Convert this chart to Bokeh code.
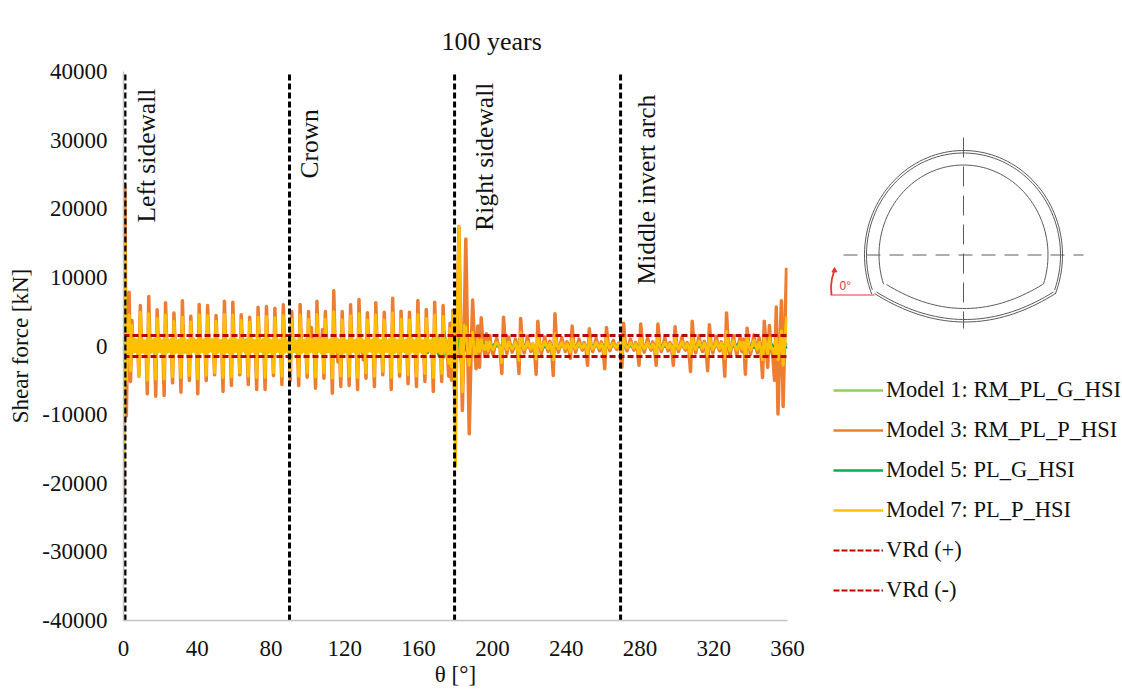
import numpy as np
from bokeh.plotting import figure
from bokeh.layouts import row
from bokeh.models import Range1d, FixedTicker, Legend, LegendItem, NumeralTickFormatter
from bokeh.core.properties import value
from bokeh.embed import file_html
from bokeh.resources import INLINE

SERIF = "Liberation Serif"

# Model 3, 0-180 deg
model3_a = [
 -22000,23400,-10200,1800,7850,-5170,
 3700,-700,800,-600,700,-4400,
 5900,-700,700,-700,600,-6970,
 7200,-800,700,-600,800,-7310,
 5300,-700,800,-700,600,-7210,
 6300,-700,700,-600,800,-5370,
 4800,-800,600,-700,700,-6730,
 6600,-700,700,-800,700,-5030,
 4350,-600,900,-700,700,-6970,
 6050,-700,700,-700,800,-5030,
 5900,-700,800,-600,700,-4200,
 4450,-800,700,-700,600,-6630,
 6530,-700,700,-700,700,-5760,
 6390,-700,800,-700,700,-4200,
 4540,-600,700,-800,700,-5610,
 4200,-700,700,-700,600,-6340,
 5660,-700,600,-600,800,-6340,
 5760,-800,700,-700,700,-4300,
 5510,-700,700,-700,700,-5610,
 6000,-700,800,-600,700,-5030,
 5030,-700,700,-700,600,-5760,
 6050,-800,700,-700,700,-4540,
 5030,-700,2700,-700,700,-6140,
 6530,-600,700,-800,2400,-4690,
 5030,-700,700,-700,800,-6870,
 8040,-700,900,-2300,700,-5900,
 5030,-800,700,-700,600,-5760,
 6000,-700,700,-700,700,-6340,
 6780,-700,800,-2000,700,-4690,
 4830,-600,700,-700,700,-5900,
 6290,-700,700,-800,700,-4200,
 4930,-700,600,-700,800,-6340,
 6970,-800,700,-600,700,-4400,
 5080,-700,700,-700,700,-5510,
 4930,-700,800,-700,600,-5900,
 6630,-700,700,-800,700,-5170,
 5320,-600,700,-700,700,-6630,
 6390,-700,800,-700,700,-5170,
 5900,-700,700,-700,-4400,3300,
 -5000,5200,-6000]

# Model 3, 180-360 deg
model3_b = [
 -9000,3000,17400,3000,-9400,2000,15600,1000,-12800,-2000,
 6700,500,-3300,2900,-3100,4100,300,-1200,1800,-1100,
 1500,-500,-1300,100,1100,100,-300,-4000,4200,400,
 -1100,1300,100,-900,-200,1000,-200,-4000,4000,300,
 -1000,100,1400,100,-800,100,-300,-4100,3600,400,
 -1100,0,1300,0,-800,700,-300,-4300,4700,300,
 -900,100,1200,100,-800,600,-300,-1800,2900,200,
 -900,100,1000,0,-600,500,-200,-2800,2500,200,
 -800,100,1100,0,-700,600,-200,-3300,2700,300,
 -700,100,800,0,-500,400,-100,-3100,3300,200,
 -700,100,1000,0,-600,500,-200,-2800,3200,200,
 -900,100,1100,0,-600,600,-200,-2800,3200,300,
 -800,100,1200,0,-700,500,-200,-2800,2800,200,
 -800,100,1300,0,-600,500,-200,-3700,3600,300,
 -1000,100,1500,0,-800,700,-200,-3600,3100,200,
 -1000,100,1400,0,-700,600,-300,-4400,4800,300,
 -1500,100,1500,-100,-1300,100,1400,-800,1000,-4100,
 2600,200,-1200,100,1600,-100,-1000,1200,-300,-4600,
 3600,300,-3100,3000,-500,-1400,-5000,5700,-9900,-1000,
 6600,-8800,2000,11400]

# Model 7, 0-180 deg
model7_a = [
 -17500,15000,-5500,700,4500,-3600,
 3000,-900,1000,-800,900,-4400,
 4900,-900,800,-1000,800,-5000,
 4700,-1000,900,-800,1000,-4800,
 4000,-800,1000,-900,800,-4800,
 4500,-900,800,-750,1000,-4500,
 3600,-1000,800,-900,900,-4600,
 4200,-800,900,-1000,800,-4300,
 3500,-800,1100,-900,800,-4800,
 4500,-900,900,-900,1000,-4300,
 4400,-800,1000,-750,900,-3900,
 3600,-1000,900,-800,800,-4600,
 4600,-900,800,-900,900,-4500,
 4500,-900,1000,-800,800,-3900,
 3700,-750,800,-1000,900,-4400,
 3500,-900,900,-800,800,-4600,
 4200,-800,800,-750,1000,-4600,
 4300,-1000,900,-900,800,-3900,
 4100,-800,800,-800,900,-4400,
 4400,-900,1000,-800,800,-4000,
 3900,-800,900,-900,750,-4400,
 4500,-1000,800,-800,900,-3900,
 3900,-800,1000,-900,800,-4500,
 4600,-750,900,-1000,1100,-3900,
 3900,-900,800,-800,1000,-4700,
 5000,-800,1100,-1000,800,-4400,
 3800,-1000,900,-800,750,-4400,
 4400,-800,800,-900,900,-4600,
 4700,-900,1000,-900,800,-3900,
 3800,-750,800,-800,900,-4400,
 4500,-900,900,-1000,800,-3700,
 3800,-800,750,-800,1000,-4600,
 4800,-1000,900,-750,800,-3800,
 3900,-800,800,-900,900,-4200,
 3800,-900,1000,-800,750,-4400,
 4600,-800,900,-1000,800,-4000,
 4000,-750,800,-800,900,-4600,
 4500,-900,1000,-900,800,-4000,
 4300,-800,900,-800,-2500,2500,
 -3000,4800,-4500]

# Model 7, 180-360 deg
model7_b = [
 -17500,4000,17400,2000,-6700,3000,2700,-500,-2800,1000,
 2000,-1000,-1200,1000,-800,900,-300,-500,600,-700,
 600,-200,-500,100,500,100,-200,-2400,1500,200,
 -500,600,0,-400,0,500,-200,-2100,2000,200,
 -500,0,600,0,-400,400,-100,-1900,1500,200,
 -500,0,600,0,-400,400,-200,-2000,1800,200,
 -400,0,500,0,-400,300,-100,-900,1000,100,
 -400,0,400,0,-300,300,-100,-1200,1100,100,
 -400,0,500,0,-300,300,-100,-1400,1100,100,
 -300,0,400,0,-200,300,-100,-1400,1300,100,
 -300,0,500,0,-300,300,-100,-1400,1400,100,
 -400,0,500,0,-300,300,-100,-1400,1400,100,
 -400,0,500,0,-300,300,-100,-1300,1300,100,
 -400,0,600,0,-300,300,-100,-1500,1500,100,
 -500,0,700,0,-400,400,-100,-1500,1400,100,
 -500,0,700,0,-400,400,-200,-1800,2100,200,
 -700,0,800,0,-600,0,600,-400,500,-1700,
 1300,100,-600,0,800,0,-500,500,-200,-2000,
 1200,200,-1100,1200,-300,-600,-1300,1400,-2000,-300,
 2200,-2800,800,4300]

# Models 1 and 5, sampled every 3 deg
model1 = [
 -3000,1200,-1000,900,-800,1000,-900,800,-1000,900,-800,1000,-900,800,-900,1000,-800,900,-1000,800,
 -900,1000,-800,900,-900,800,-1000,900,-800,1000,-900,800,-900,1000,-800,900,-1000,800,-900,1000,
 -800,900,-1000,800,-900,1000,-800,900,-900,800,-1000,900,-800,1000,-900,800,-1200,1500,-1800,2000,
 1500,-2500,600,-500,350,-300,250,-300,200,-250,300,-200,250,-300,200,-150,250,-300,200,-250,
 150,-200,250,-150,200,-250,150,-200,100,-150,200,-200,150,-100,200,-150,100,-200,150,-100,
 200,-250,150,-200,250,-200,150,-250,200,-150,250,-300,200,-250,300,-350,250,-400,500,-450,400]
model5 = [
 2500,-1100,1000,-900,900,-1000,800,-900,1000,-800,900,-1000,800,-900,1000,-800,900,-900,800,-1000,
 900,-800,1000,-900,800,-900,1000,-800,900,-1000,800,-900,1000,-800,900,-1000,800,-900,1000,-800,
 900,-1000,800,-900,1000,-800,900,-900,800,-1000,900,-800,1000,-900,800,-1100,1300,-1600,2000,-2200,
 -2000,2800,-800,600,-400,500,-350,300,-250,300,-200,250,-200,300,-150,200,-250,200,-300,150,
 -200,250,-150,200,-100,150,-200,150,-200,100,-150,150,-200,100,-150,200,-100,150,-150,100,
 -200,200,-150,250,-200,150,-250,200,-150,250,-200,300,-250,200,-300,300,-350,400,-450,500,-350]

vrd_value = 1530
sections = [0.8, 90, 179.5, 269.5]
section_names = ["Left sidewall", "Crown", "Right sidewall", "Middle invert arch"]
section_label_x = [12.5, 100.8, 195.7, 283.5]
section_label_y = [18000, 24400, 16800, 8960]
x_ticks = list(range(0, 361, 40))
y_ticks = list(range(-40000, 40001, 10000))
legend_names = ["Model 1: RM_PL_G_HSI", "Model 3: RM_PL_P_HSI", "Model 5: PL_G_HSI",
                "Model 7: PL_P_HSI", "VRd (+)", "VRd (-)"]

theta_a = [0.76 * i for i in range(len(model3_a))]
theta_b = [180 + 0.93 * k for k in range(len(model3_b))]
theta = theta_a + theta_b
theta_coarse = [3 * i for i in range(len(model1))]

C1, C3, C5, C7, CR = "#92D050", "#ED7D31", "#00B050", "#FFC000", "#C00000"

p = figure(width=812, height=689, output_backend="svg", toolbar_location=None,
           x_range=Range1d(0, 360), y_range=Range1d(-40000, 40000),
           min_border_left=123, min_border_right=25, min_border_top=71, min_border_bottom=69,
           x_axis_label="θ [°]", y_axis_label="Shear force [kN]")
p.frame_align = False
p.outline_line_color = None
p.grid.visible = False
p.title.text = "100 years"
p.title.text_font = SERIF
p.title.text_font_size = "26px"
p.title.text_font_style = "normal"
p.title.text_color = "#111111"
p.title.align = "left"
p.title.vertical_align = "top"
p.title.offset = 318
p.title.standoff = 28

for ax in (p.xaxis[0], p.yaxis[0]):
    ax.axis_line_color = "#C4C4C4"
    ax.axis_line_width = 1.5
    ax.major_tick_line_color = None
    ax.minor_tick_line_color = None
    ax.major_label_text_font = SERIF
    ax.major_label_text_font_size = "23px"
    ax.major_label_text_color = "#111111"
    ax.axis_label_text_font = SERIF
    ax.axis_label_text_font_size = "23px"
    ax.axis_label_text_font_style = "normal"
    ax.axis_label_text_color = "#111111"
p.xaxis[0].ticker = FixedTicker(ticks=x_ticks)
p.yaxis[0].ticker = FixedTicker(ticks=y_ticks)
p.xaxis[0].major_label_standoff = 14
p.yaxis[0].major_label_standoff = 10
p.xaxis[0].axis_label_standoff = 3
p.xaxis[0].major_label_text_line_height = 0.8
p.xaxis[0].axis_label_text_line_height = 0.8
p.yaxis[0].axis_label_standoff = 6
p.yaxis[0].axis_label_text_line_height = 0.8
p.yaxis[0].formatter = NumeralTickFormatter(format="0")

p.line(theta_coarse, model1, line_color=C1, line_width=2)
p.line(theta, model3_a + model3_b, line_color=C3, line_width=3.5, line_join="round")
p.line(theta_coarse, model5, line_color=C5, line_width=2)
p.line(theta, model7_a + model7_b, line_color=C7, line_width=3, line_join="round")
p.line([0, 360], [vrd_value, vrd_value], line_color=CR, line_width=3, line_dash="6 3")
p.line([0, 360], [-vrd_value, -vrd_value], line_color=CR, line_width=3, line_dash="6 3")
for s in sections:
    p.line([s, s], [-40000, 40000], line_color="black", line_width=3, line_dash="6 3")
p.text(section_label_x, section_label_y, text=section_names, angle=np.pi / 2,
       text_font=value(SERIF), text_font_size="25.5px", text_color="#111111",
       text_align="left", text_baseline="middle")

# Right panel: tunnel sketch and legend. Its ranges are page pixels.
q = figure(width=310, height=689, output_backend="svg", toolbar_location=None,
           x_range=Range1d(812, 1122), y_range=Range1d(689, 0),
           min_border=0, x_axis_type=None, y_axis_type=None)
q.frame_align = False
q.outline_line_color = None
q.grid.visible = False

GREY = "#5A5A5A"
cx, cy = 963.0, 254.5
def arch(rx, ry, t0):
    t = np.radians(np.linspace(-t0, 180 + t0, 90))
    return cx + rx * np.cos(t), cy - ry * np.sin(t)
def invert(x0, x1, y0, ym):
    s = np.linspace(0, 1, 40)
    yc = 2 * ym - y0
    return x0 + (x1 - x0) * s, (1 - s) ** 2 * y0 + 2 * s * (1 - s) * yc + s ** 2 * y0

for rx, ry, t0, xa, xb, ya, ym in [(99, 104.5, 22, 874, 1055, 293, 321.5),
                                   (97, 102, 20, 876, 1053, 291.5, 319)]:
    xs, ys = arch(rx, ry, t0)
    q.line(xs, ys, line_color=GREY, line_width=1)
    xi, yi = invert(xa, xb, ya, ym)
    q.line(xi, yi, line_color=GREY, line_width=1)
xs, ys = arch(84.5, 90, 19)
q.line(xs, ys, line_color=GREY, line_width=1)
xi, yi = invert(886, 1042, 284, 308)
q.line(xi, yi, line_color=GREY, line_width=1)
q.line([843, 1083], [254.5, 254.5], line_color=GREY, line_width=1, line_dash="14 9")
q.line([963, 963], [137, 328], line_color=GREY, line_width=1, line_dash="20 9")

RED = "#F03030"
q.line([830, 874], [294.5, 294.5], line_color=RED, line_width=1)
q.line([831, 830.5, 831.5, 833.5], [294.5, 286, 278, 271], line_color=RED, line_width=1.8)
q.scatter([834], [270], marker="triangle", size=5, color=RED)
q.text([839], [285], text=["0°"], text_font=value("Liberation Sans"), text_font_size="12px",
       text_color=RED, text_baseline="middle", text_align="left")

nan2 = [float("nan"), float("nan")]
dummy = [
    q.line(nan2, nan2, line_color=C1, line_width=2.5),
    q.line(nan2, nan2, line_color=C3, line_width=2.5),
    q.line(nan2, nan2, line_color=C5, line_width=2.5),
    q.line(nan2, nan2, line_color=C7, line_width=2.5),
    q.line(nan2, nan2, line_color=CR, line_width=2, line_dash="6 2"),
    q.line(nan2, nan2, line_color=CR, line_width=2, line_dash="6 2"),
]
legend = Legend(items=[LegendItem(label=n, renderers=[r]) for n, r in zip(legend_names, dummy)],
                location=(21, 86), orientation="vertical", border_line_color=None,
                background_fill_color=None, glyph_width=50, glyph_height=20, label_height=20,
                label_standoff=3, spacing=14, padding=0, margin=0,
                label_text_font=SERIF, label_text_font_size="22.5px", label_text_color="#111111")
q.add_layout(legend)

page = row(p, q, spacing=0)
open("out.html", "w").write(file_html(page, INLINE))
